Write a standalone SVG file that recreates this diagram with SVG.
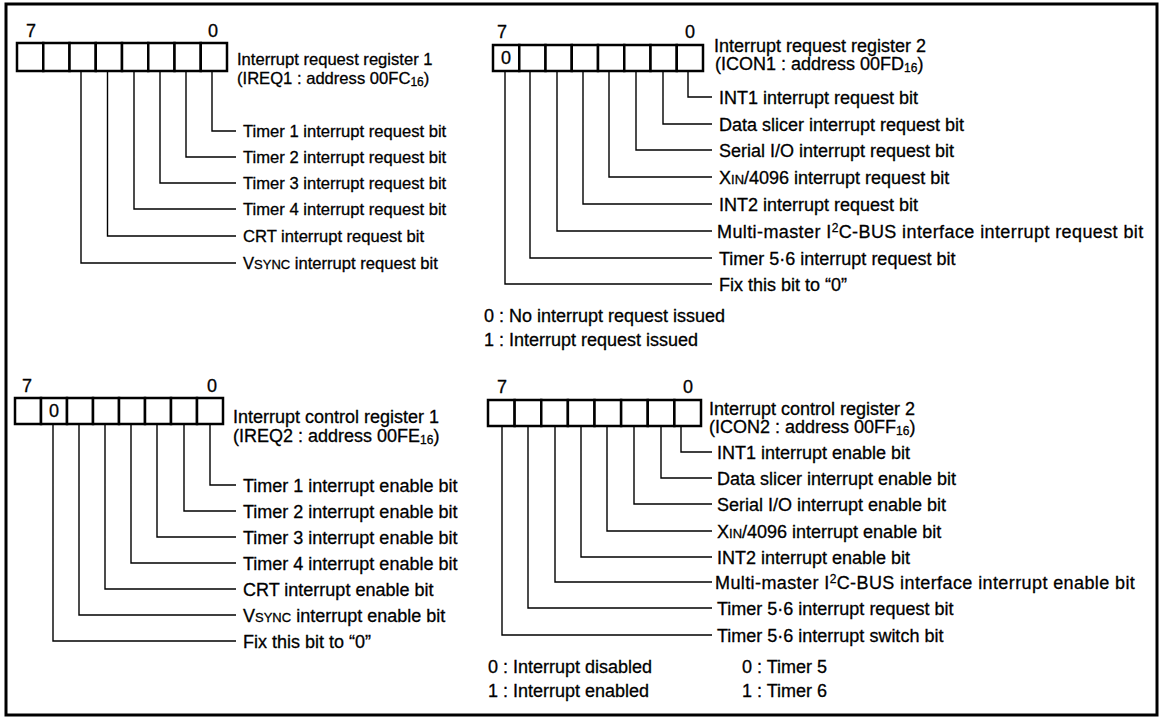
<svg xmlns="http://www.w3.org/2000/svg" width="1165" height="720" viewBox="0 0 1165 720">
<style>
text{font-family:"Liberation Sans",Arial,Helvetica,sans-serif;font-size:18px;fill:#000;stroke:#000;stroke-width:0.3}
.small{font-size:16.6px}
.sub{font-size:12px}
.sc{font-size:13px}
.mm{letter-spacing:0.4px}
.cell{fill:#fff;stroke:#000;stroke-width:2.5}
.ln{fill:none;stroke:#000;stroke-width:1.4}
.d{text-anchor:middle}
</style>
<rect x="0" y="0" width="1165" height="720" fill="#fff"/>
<rect id="frame" x="6" y="4" width="1151" height="711" fill="none" stroke="#000" stroke-width="3"/>

<g id="reg1">
<rect class="cell" x="17" y="43" width="26.25" height="28"/><rect class="cell" x="43.25" y="43" width="26.25" height="28"/><rect class="cell" x="69.5" y="43" width="26.25" height="28"/><rect class="cell" x="95.75" y="43" width="26.25" height="28"/><rect class="cell" x="122" y="43" width="26.25" height="28"/><rect class="cell" x="148.25" y="43" width="26.25" height="28"/><rect class="cell" x="174.5" y="43" width="26.25" height="28"/><rect class="cell" x="200.75" y="43" width="26.25" height="28"/>
<text class="d" x="31" y="37">7</text><text class="d" x="213" y="37">0</text>
<text class="small" x="237" y="65">Interrupt request register 1</text>
<text class="small" x="237" y="84">(IREQ1 : address 00FC<tspan class="sub" dy="2">16</tspan><tspan dy="-2">)</tspan></text>
</g>

<g id="reg2">
<rect class="cell" x="493" y="45" width="26.25" height="26"/><rect class="cell" x="519.25" y="45" width="26.25" height="26"/><rect class="cell" x="545.5" y="45" width="26.25" height="26"/><rect class="cell" x="571.75" y="45" width="26.25" height="26"/><rect class="cell" x="598" y="45" width="26.25" height="26"/><rect class="cell" x="624.25" y="45" width="26.25" height="26"/><rect class="cell" x="650.5" y="45" width="26.25" height="26"/><rect class="cell" x="676.75" y="45" width="26.25" height="26"/>
<text class="d" x="506" y="64">0</text>
<text class="d" x="502" y="38">7</text><text class="d" x="690" y="38">0</text>
<text x="714" y="52">Interrupt request register 2</text>
<text x="715" y="70">(ICON1 : address 00FD<tspan class="sub" dy="2">16</tspan><tspan dy="-2">)</tspan></text>
</g>

<g id="reg3">
<rect class="cell" x="15" y="398" width="26" height="26"/><rect class="cell" x="41" y="398" width="26" height="26"/><rect class="cell" x="67" y="398" width="26" height="26"/><rect class="cell" x="93" y="398" width="26" height="26"/><rect class="cell" x="119" y="398" width="26" height="26"/><rect class="cell" x="145" y="398" width="26" height="26"/><rect class="cell" x="171" y="398" width="26" height="26"/><rect class="cell" x="197" y="398" width="26" height="26"/>
<text class="d" x="54" y="417">0</text>
<text class="d" x="27" y="392">7</text><text class="d" x="212" y="392">0</text>
<text x="233" y="423">Interrupt control register 1</text>
<text x="233" y="442">(IREQ2 : address 00FE<tspan class="sub" dy="2">16</tspan><tspan dy="-2">)</tspan></text>
</g>

<g id="reg4">
<rect class="cell" x="488" y="400" width="26.625" height="26"/><rect class="cell" x="514.625" y="400" width="26.625" height="26"/><rect class="cell" x="541.25" y="400" width="26.625" height="26"/><rect class="cell" x="567.875" y="400" width="26.625" height="26"/><rect class="cell" x="594.5" y="400" width="26.625" height="26"/><rect class="cell" x="621.125" y="400" width="26.625" height="26"/><rect class="cell" x="647.75" y="400" width="26.625" height="26"/><rect class="cell" x="674.375" y="400" width="26.625" height="26"/>
<text class="d" x="502" y="393">7</text><text class="d" x="688" y="393">0</text>
<text x="709" y="415">Interrupt control register 2</text>
<text x="709" y="433">(ICON2 : address 00FF<tspan class="sub" dy="2">16</tspan><tspan dy="-2">)</tspan></text>
</g>

<g id="connectors">
<path class="ln" d="M212 71V131H236M186 71V157H236M160 71V183H236M134 71V209H236M107.5 71V236H236M81 71V263H236"/>
<path class="ln" d="M688 71V97H712M663 71V124H712M636 71V150H712M609 71V177H712M583 71V204H712M557 71V231H712M530 71V258H712M505 71V284H712"/>
<path class="ln" d="M210 424V485H236M184 424V511H236M157 424V537H236M131 424V563H236M105 424V589H236M79 424V615H236M53 424V641H236"/>
<path class="ln" d="M681 426V452H712M661 426V478H712M634 426V504H712M607 426V531H712M581 426V557H712M555 426V582H712M528 426V608H712M502 426V635H712"/>
</g>

<g id="labels1" class="small">
<text class="small" x="243" y="137">Timer 1 interrupt request bit</text>
<text class="small" x="243" y="163">Timer 2 interrupt request bit</text>
<text class="small" x="243" y="189">Timer 3 interrupt request bit</text>
<text class="small" x="243" y="215">Timer 4 interrupt request bit</text>
<text class="small" x="243" y="242">CRT interrupt request bit</text>
<text class="small" x="243" y="269">V<tspan class="sc">SYNC</tspan> interrupt request bit</text>
</g>

<g id="labels2">
<text x="719" y="103.5">INT1 interrupt request bit</text>
<text x="719" y="130.5">Data slicer interrupt request bit</text>
<text x="719" y="156.5">Serial I/O interrupt request bit</text>
<text x="719" y="183.5">X<tspan class="sc">IN</tspan>/4096 interrupt request bit</text>
<text x="719" y="210.5">INT2 interrupt request bit</text>
<text class="mm" x="717" y="237.5">Multi-master I<tspan class="sub" dy="-6">2</tspan><tspan dy="6">C-BUS interface interrupt request bit</tspan></text>
<text x="719" y="264.5">Timer 5·6 interrupt request bit</text>
<text x="719" y="290.5">Fix this bit to “0”</text>
<text x="484" y="322">0 : No interrupt request issued</text>
<text x="484" y="346">1 : Interrupt request issued</text>
</g>

<g id="labels3">
<text x="243" y="491.5">Timer 1 interrupt enable bit</text>
<text x="243" y="517.5">Timer 2 interrupt enable bit</text>
<text x="243" y="543.5">Timer 3 interrupt enable bit</text>
<text x="243" y="569.5">Timer 4 interrupt enable bit</text>
<text x="243" y="595.5">CRT interrupt enable bit</text>
<text x="243" y="621.5">V<tspan class="sc">SYNC</tspan> interrupt enable bit</text>
<text x="243" y="647.5">Fix this bit to “0”</text>
</g>

<g id="labels4">
<text x="717" y="458.5">INT1 interrupt enable bit</text>
<text x="717" y="484.5">Data slicer interrupt enable bit</text>
<text x="717" y="510.5">Serial I/O interrupt enable bit</text>
<text x="717" y="537.5">X<tspan class="sc">IN</tspan>/4096 interrupt enable bit</text>
<text x="717" y="563.5">INT2 interrupt enable bit</text>
<text class="mm" x="715" y="588.5">Multi-master I<tspan class="sub" dy="-6">2</tspan><tspan dy="6">C-BUS interface interrupt enable bit</tspan></text>
<text x="717" y="614.5">Timer 5·6 interrupt request bit</text>
<text x="717" y="641.5">Timer 5·6 interrupt switch bit</text>
<text x="488" y="673">0 : Interrupt disabled</text>
<text x="488" y="697">1 : Interrupt enabled</text>
<text x="742" y="673">0 : Timer 5</text>
<text x="742" y="697">1 : Timer 6</text>
</g>
</svg>
